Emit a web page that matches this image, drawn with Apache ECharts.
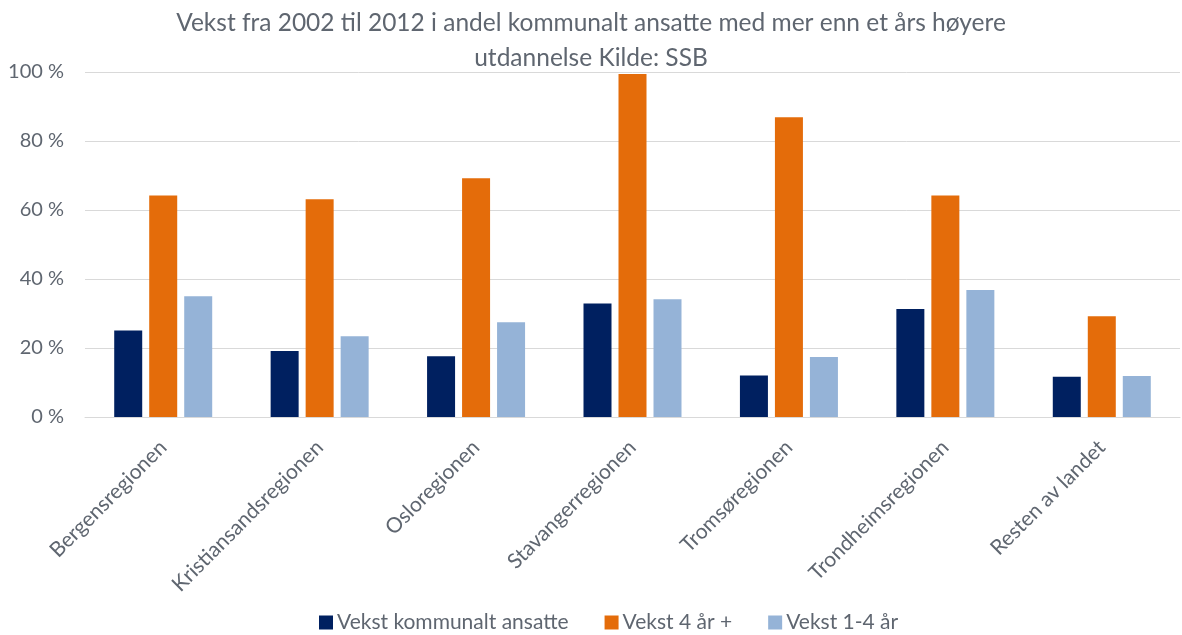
<!DOCTYPE html>
<html>
<head>
<meta charset="utf-8">
<script src="https://cdn.jsdelivr.net/npm/echarts@6/dist/echarts.min.js"></script>
<style>
  html, body { margin: 0; padding: 0; background: #fff; }
  #chart { width: 1182px; height: 635px; }
</style>
</head>
<body>
<div id="chart"></div>
<script>
// Regions (categories)
const regions = [
  'Bergensregionen', 'Kristiansandsregionen', 'Osloregionen', 'Stavangerregionen',
  'Tromsøregionen', 'Trondheimsregionen', 'Resten av landet'
];
// Growth 2002-2012, percent
const vekstAnsatte = [25.1, 19.1, 17.6, 32.9, 12.0, 31.3, 11.7];
const vekst4Plus   = [64.2, 63.1, 69.2, 99.4, 86.9, 64.2, 29.2];
const vekst1til4   = [35.0, 23.4, 27.5, 34.1, 17.4, 36.8, 11.9];
const seriesNames  = ['Vekst kommunalt ansatte', 'Vekst 4 år +', 'Vekst 1-4 år'];
const yTicks = [0, 20, 40, 60, 80, 100];

const FONT = 'Lato';
const TEXT = '#5f6670';

const chart = echarts.init(document.getElementById('chart'), null, { renderer: 'canvas' });
chart.setOption({
  animation: false,
  textStyle: { fontFamily: FONT },
  title: {
    text: 'Vekst fra 2002 til 2012 i andel kommunalt ansatte med mer enn et års høyere\nutdannelse Kilde: SSB',
    left: 'center',
    top: 1,
    textStyle: { fontFamily: FONT, fontSize: 24.5, fontWeight: 'normal', color: TEXT, lineHeight: 35 }
  },
  legend: {
    top: 607,
    left: 314,
    itemWidth: 14,
    itemHeight: 14,
    itemGap: 36,
    icon: 'rect',
    textStyle: { fontFamily: FONT, fontSize: 21, color: TEXT, padding: [0, 0, 0, -1] },
    data: seriesNames
  },
  grid: { left: 85, right: 2, top: 72, bottom: 218, containLabel: false },
  xAxis: {
    type: 'category',
    data: regions,
    axisTick: { show: false },
    axisLine: { show: true, lineStyle: { color: '#D9D9D9', width: 1 } },
    axisLabel: { rotate: 45, fontSize: 21, color: TEXT, margin: 27, interval: 0 }
  },
  yAxis: {
    type: 'value',
    min: 0,
    max: 100,
    interval: 20,
    axisLine: { show: false },
    axisTick: { show: false },
    splitLine: { lineStyle: { color: '#D9D9D9', width: 1 } },
    axisLabel: {
      fontSize: 20, color: TEXT, margin: 21,
      formatter: v => (yTicks.includes(v) ? v + ' %' : '')
    }
  },
  series: [
    { name: seriesNames[0], type: 'bar', data: vekstAnsatte, barWidth: 28, barGap: '25%',
      itemStyle: { color: '#002060' } },
    { name: seriesNames[1], type: 'bar', data: vekst4Plus, barWidth: 28, barGap: '25%',
      itemStyle: { color: '#E46C0A' } },
    { name: seriesNames[2], type: 'bar', data: vekst1til4, barWidth: 28, barGap: '25%',
      itemStyle: { color: '#95B3D7' } }
  ]
});
</script>
</body>
</html>
